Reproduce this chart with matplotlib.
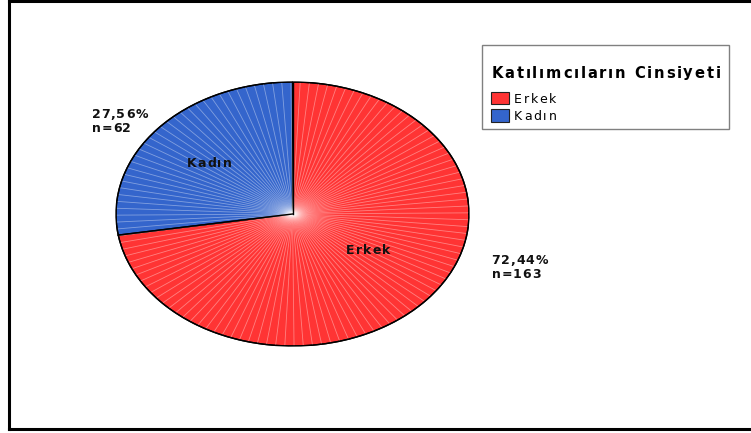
import numpy as np
import matplotlib
matplotlib.use("Agg")
import matplotlib.pyplot as plt
from matplotlib.patches import Rectangle
from matplotlib.lines import Line2D
from matplotlib import font_manager, ft2font
from matplotlib.font_manager import FontProperties

FAMILY = 'DejaVu Sans'
plt.rcParams['font.family'] = [FAMILY]

# ---- data ----
categories = ["Erkek", "Kadın"]
counts = [163, 62]
colors = ["#FF3434", "#3465CC"]
legend_title = "Katılımcıların Cinsiyeti"

W, H = 751, 433
DPI = 100
fig = plt.figure(figsize=(W / DPI, H / DPI), dpi=DPI)

def fx(px):
    return px / W

def fy(py):
    return 1 - py / H

_fonts = {}
def advances(text, size, weight):
    key = (size, weight)
    if key not in _fonts:
        fp = FontProperties(family=FAMILY, weight=weight, size=size)
        f = ft2font.FT2Font(font_manager.findfont(fp), hinting_factor=1)
        f.set_size(size, DPI)
        _fonts[key] = f
    f = _fonts[key]
    return [f.load_char(ord(ch)).linearHoriAdvance / 65536.0 for ch in text]

def tracked(x, y, text, size, weight="normal", track=None, width=None,
            ha="left", color="black"):
    """Draw letter-spaced text; x,y in pixels (y = baseline from top).
    Returns the tracking used."""
    adv = advances(text, size, weight)
    if track is None:
        track = (width - sum(adv) + 0.1 * adv[-1]) / (len(text) - 1)
    total = sum(adv) + track * (len(text) - 1)
    if ha == "center":
        x = x - total / 2
    cx = x
    for ch, a in zip(text, adv):
        fig.text(fx(cx), fy(y), ch, ha="left", va="baseline", fontsize=size,
                 fontweight=weight, color=color, family=FAMILY)
        cx += a + track
    return track

# pie axes spanning the ellipse box
left, right, top, bottom = 116, 469, 82, 346
ax = fig.add_axes([fx(left), fy(bottom), (right - left) / W, (bottom - top) / H])
wedges, _ = ax.pie(counts, colors=colors, startangle=90, counterclock=False,
                   wedgeprops=dict(edgecolor="black", linewidth=1.0))
ax.set_aspect('auto')
ax.set_xlim(-1, 1)
ax.set_ylim(-1, 1)
ax.axis('off')

# faint radial shading lines (style)
for a in np.arange(0.5, 360, 3.0):
    t = np.deg2rad(a)
    ax.plot([0, 0.995 * np.cos(t)], [0, 0.995 * np.sin(t)], color="white",
            lw=0.6, alpha=0.38, zorder=3)
total = sum(counts)
ang = 90.0
for c in counts:
    t = np.deg2rad(ang)
    ax.plot([0, np.cos(t)], [0, np.sin(t)], color="black", lw=1.0, zorder=4)
    ang -= 360.0 * c / total
tt = np.linspace(0, 2 * np.pi, 400)
ax.plot(np.cos(tt), np.sin(tt), color="black", lw=1.0, zorder=4)

LBL = 9.0
# labels inside (center x, baseline y in px)
inside_pos = {"Erkek": (368.7, 254.5), "Kadın": (209.5, 166.5)}
for cat in categories:
    x, y = inside_pos[cat]
    tracked(x, y, cat, LBL, "bold", width=44, ha="center", color="#111111")

# outside labels (left x, first baseline y)
outside_pos = {"Erkek": (491.5, 263.5), "Kadın": (91.7, 117.8)}
for cat, c in zip(categories, counts):
    x, y = outside_pos[cat]
    pct = f"{100 * c / total:.2f}".replace(".", ",")
    tr = tracked(x, y, f"{pct}%", LBL, "bold", width=55.5, color="#111111")
    tracked(x, y + 14.5, f"n={c}", LBL, "bold", track=tr, color="#111111")

# legend (manual)
lx0, ly0, lx1, ly1 = 482, 45, 729, 129
fig.patches.append(Rectangle((fx(lx0), fy(ly1)), (lx1 - lx0) / W, (ly1 - ly0) / H,
                             transform=fig.transFigure, facecolor="white",
                             edgecolor="#808080", linewidth=1.0))
tracked(491.5, 77.5, legend_title, 10.6, "bold", width=228.5)
tr = None
for i, (cat, col) in enumerate(zip(categories, colors)):
    ytop = 91.7 + i * 17.5
    fig.patches.append(Rectangle((fx(491), fy(ytop + 12.6)), 18 / W, 12.6 / H,
                                 transform=fig.transFigure, facecolor=col,
                                 edgecolor="#222222", linewidth=0.8))
    if tr is None:
        tr = tracked(514, 102.8 + i * 17.3, cat, 9.0, "normal", width=42)
    else:
        tracked(514, 102.8 + i * 17.3, cat, 9.0, "normal", track=tr)

# outer border
for (x0, y0, x1, y1) in [(9, 1.2, 760, 1.2), (9, 1.2, 9, 428.5), (9, 428.5, 760, 428.5)]:
    fig.lines.append(Line2D([fx(x0), fx(x1)], [fy(y0), fy(y1)],
                            transform=fig.transFigure, color="black", lw=2.2))

fig.savefig("out.png", dpi=DPI)
